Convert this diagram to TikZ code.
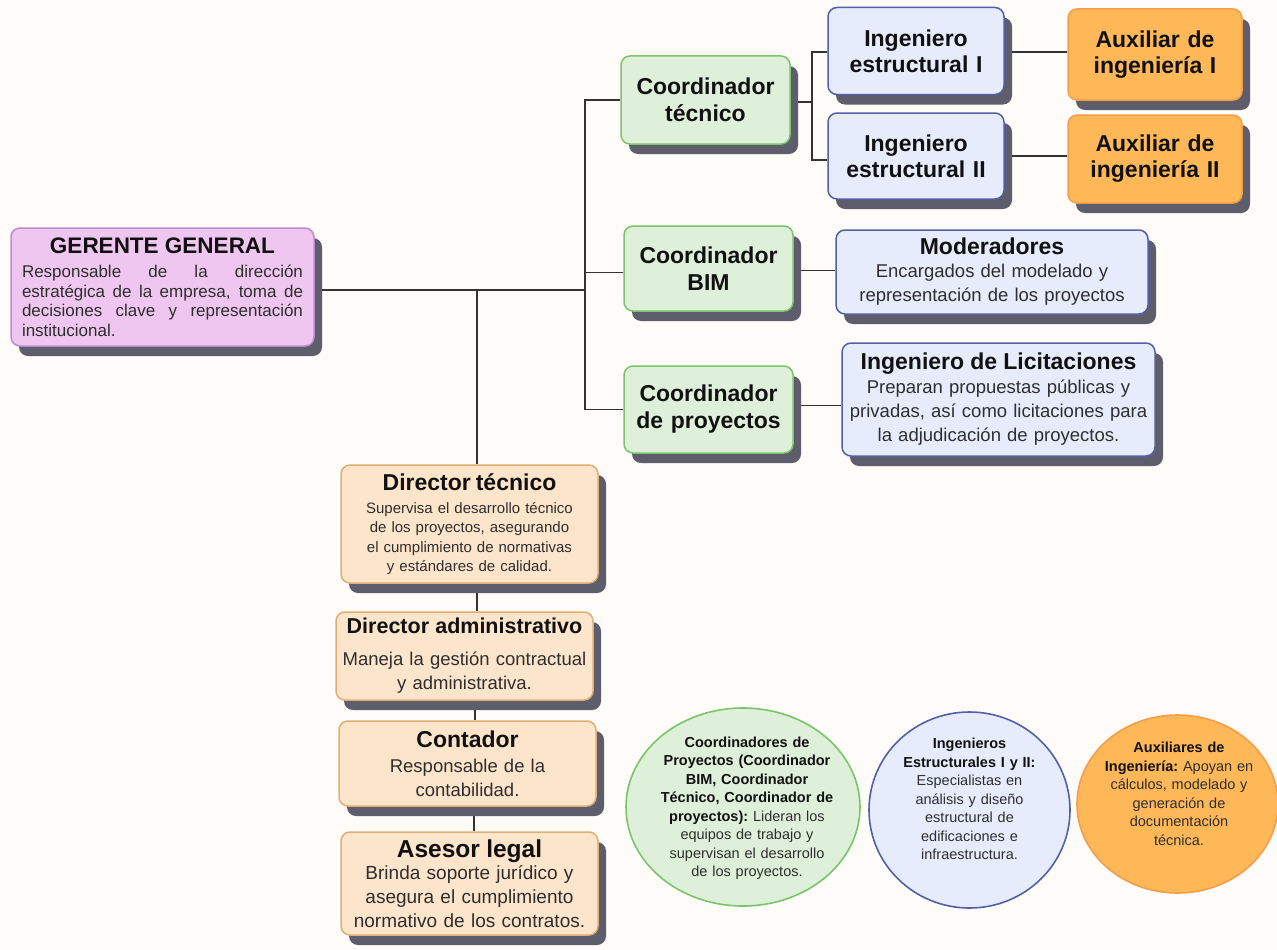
\documentclass[tikz,border=0pt]{standalone}
\usepackage{fontspec}
\setmainfont{Liberation Sans}
\usetikzlibrary{shadows,shapes.geometric}
\definecolor{bgc}{HTML}{FDFCF9}
\definecolor{pinkF}{HTML}{EFC6F0}
\definecolor{pinkD}{HTML}{BE8BCF}
\definecolor{greenF}{HTML}{DEF0D9}
\definecolor{greenD}{HTML}{7CC46A}
\definecolor{blueF}{HTML}{E6ECFB}
\definecolor{blueD}{HTML}{5360A6}
\definecolor{orangeF}{HTML}{FFB858}
\definecolor{orangeD}{HTML}{F59D4B}
\definecolor{peachF}{HTML}{FDE5CC}
\definecolor{peachD}{HTML}{E0AE72}
\definecolor{shadowc}{HTML}{5E5D6B}
\definecolor{linec}{HTML}{333333}
\definecolor{txt}{HTML}{111111}
\definecolor{bodytxt}{HTML}{2E2E2E}
\pgfdeclarelayer{bg}
\pgfsetlayers{bg,main}
\begin{document}
\begin{tikzpicture}[x=1pt,y=-1pt,
  shd/.style={drop shadow={shadow xshift=8pt,shadow yshift=-10pt,fill=shadowc,opacity=1}},
  box/.style={rounded corners=9pt,line width=1.5pt,align=center,inner sep=0pt,shd,text=txt},
  coord/.style={box,fill=greenF,draw=greenD,minimum width=169pt,text width=160pt,
    font=\fontsize{23}{27}\selectfont\bfseries},
  inge/.style={box,fill=blueF,draw=blueD,minimum width=176pt,text width=170pt,
    font=\fontsize{23}{26}\selectfont\bfseries},
  aux/.style={box,fill=orangeF,draw=orangeD,minimum width=174pt,text width=170pt,
    font=\fontsize{23}{26}\selectfont\bfseries},
  desc/.style={box,fill=blueF,draw=blueD,text width=305pt,
    font=\fontsize{18.5}{24}\selectfont},
  dirbox/.style={box,fill=peachF,draw=peachD,minimum width=257pt,text width=252pt},
  circ/.style={ellipse,line width=1.6pt,inner sep=0pt},
  ctext/.style={align=center,text width=220pt,text=bodytxt,font=\fontsize{14.5}{18.5}\selectfont\frenchspacing},
  conn/.style={draw=linec,line width=1.3pt}
]
\useasboundingbox (0,0) rectangle (1277,950);
\begin{pgfonlayer}{bg}
\fill[bgc] (0,0) rectangle (1277,950);
\end{pgfonlayer}

% Gerente
\node[box,fill=pinkF,draw=pinkD,minimum width=303pt,minimum height=118pt,
  text width=281pt,align=justify,font=\fontsize{17}{19.5}\selectfont] (ger) at (162.5,287)
  {{\centering\color{txt}\fontsize{22.5}{26}\selectfont\bfseries GERENTE GENERAL\par}\vspace{4.5pt}%
  {\color{bodytxt}Responsable de la dirección\linebreak estratégica de la empresa, toma de\linebreak decisiones clave y representación\linebreak institucional.}};

% Coordinadores
\node[coord,minimum height=88pt] (ct) at (705.5,100) {Coordinador\\técnico};
\node[coord,minimum height=85pt] (cb) at (708.5,268.5) {Coordinador\\BIM};
\node[coord,minimum height=87pt] (cp) at (708.5,409.5) {Coordinador\\de proyectos};

% Ingenieros estructurales
\node[inge,minimum height=87pt] (ie1) at (916,51) {Ingeniero\\estructural I};
\node[inge,minimum height=86pt] (ie2) at (916,156) {Ingeniero\\estructural II};

% Auxiliares
\node[aux,minimum height=91pt] (ax1) at (1155,54.5) {Auxiliar de\\ingeniería I};
\node[aux,minimum height=88pt] (ax2) at (1155,159) {Auxiliar de\\ingeniería II};

% Moderadores / Licitaciones
\node[desc,minimum width=312pt,minimum height=84pt] (mod) at (992,272)
  {{\fontsize{23}{27}\selectfont\bfseries Moderadores}\\[-1pt]
   {\color{bodytxt}Encargados del modelado y\\representación de los proyectos}};
\node[desc,minimum width=313pt,minimum height=113pt] (lic) at (998.5,399.5)
  {{\fontsize{23}{27}\selectfont\bfseries Ingeniero de Licitaciones}\\[0pt]
   {\color{bodytxt}Preparan propuestas públicas y\\privadas, así como licitaciones para\\la adjudicación de proyectos.}};

% Directores
\node[dirbox,minimum height=118pt,font=\fontsize{15}{19.5}\selectfont] (dt) at (469.5,524)
  {{\fontsize{23}{27}\selectfont\bfseries Director técnico}\\[3.5pt]
   {\color{bodytxt}Supervisa el desarrollo técnico\\de los proyectos, asegurando\\el cumplimiento de normativas\\y estándares de calidad.}};
\node[dirbox,minimum height=88pt,font=\fontsize{18.5}{24}\selectfont] (da) at (464.5,656)
  {{\fontsize{21.5}{25}\selectfont\bfseries Director administrativo}\\[8pt]
   {\color{bodytxt}Maneja la gestión contractual\\y administrativa.}};
\node[dirbox,minimum height=85pt,font=\fontsize{18.5}{24}\selectfont] (co) at (467.5,763.5)
  {{\fontsize{23}{27}\selectfont\bfseries Contador}\\[1pt]
   {\color{bodytxt}Responsable de la\\contabilidad.}};
\node[dirbox,minimum height=103pt,font=\fontsize{19}{24}\selectfont] (al) at (469.5,883.5)
  {{\fontsize{24.5}{28}\selectfont\bfseries Asesor legal}\\[-2pt]
   {\color{bodytxt}Brinda soporte jurídico y\\asegura el cumplimiento\\normativo de los contratos.}};

% Circulos
\node[circ,fill=greenF,draw=greenD,minimum width=234pt,minimum height=198pt] (cG) at (743,807) {};
\node[circ,fill=blueF,draw=blueD,minimum width=201pt,minimum height=196pt] (cB) at (969.5,810) {};
\node[circ,fill=orangeF,draw=orangeD,minimum width=201pt,minimum height=178pt] (cO) at (1177.5,804) {};

\node[ctext] (tG) at (747,808)
  {\textbf{\color{txt}Coordinadores de}\\\textbf{\color{txt}Proyectos (Coordinador}\\\textbf{\color{txt}BIM, Coordinador}\\\textbf{\color{txt}Técnico, Coordinador de}\\\textbf{\color{txt}proyectos):} Lideran los\\equipos de trabajo y\\supervisan el desarrollo\\de los proyectos.};
\node[ctext] (tB) at (969.5,799)
  {\textbf{\color{txt}Ingenieros}\\\textbf{\color{txt}Estructurales I y II:}\\Especialistas en\\análisis y diseño\\estructural de\\edificaciones e\\infraestructura.};
\node[ctext] (tO) at (1179,794)
  {\textbf{\color{txt}Auxiliares de}\\\textbf{\color{txt}Ingeniería:} Apoyan en\\cálculos, modelado y\\generación de\\documentación\\técnica.};

% Conectores
\coordinate (g1) at (585,290);
\coordinate (d1) at (477,290);
\coordinate (c1) at (812,102);
\begin{pgfonlayer}{bg}
  \draw[conn] (ger.east |- g1) -- (g1);
  \draw[conn] (ct.west) -| (g1) |- (cp.west);
  \draw[conn] ([yshift=-4pt]cb.west) -- ([yshift=-4pt]cb.west -| g1);
  \draw[conn] (d1) -- (d1 |- dt.north);
  \draw[conn] (d1 |- dt.south) -- (d1 |- da.north);
  \draw[conn] ([xshift=-2pt]d1 |- da.south) -- ([xshift=-2pt]d1 |- co.north);
  \draw[conn] ([xshift=-3pt]d1 |- co.south) -- ([xshift=-3pt]d1 |- al.north);
  \draw[conn] (ct.east |- c1) -- (c1);
  \draw[conn] ([yshift=-1pt]ie1.west) -| (c1) |- ([yshift=-4pt]ie2.west);
  \draw[conn] ([yshift=-1pt]ie1.east) -- ([yshift=-1pt]ie1.east -| ax1.west);
  \draw[conn] (ie2.east) -- (ie2.east -| ax2.west);
  \draw[conn] ([yshift=-2pt]cb.east) -- ([yshift=-2pt]cb.east -| mod.west);
  \draw[conn] ([yshift=4pt]cp.east) -- ([yshift=4pt]cp.east -| lic.west);
\end{pgfonlayer}
\end{tikzpicture}
\end{document}
